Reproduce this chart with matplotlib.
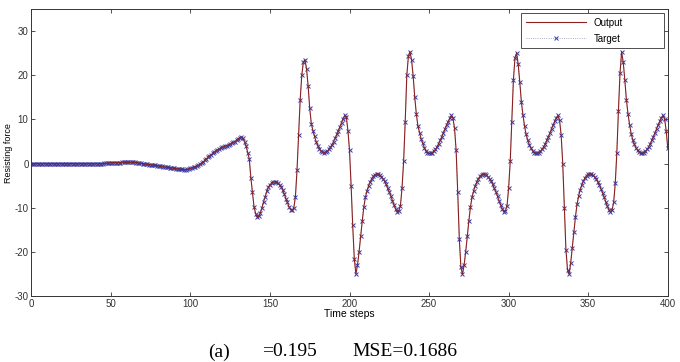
import numpy as np
import matplotlib
matplotlib.use('Agg')
import matplotlib.pyplot as plt

# time steps 0..400 (one per step)
steps = np.arange(0, 401)

flat_part = [0.0] * 46  # t = 0..45
slow_part = [  # t = 46..131
    0.05, 0.1, 0.1, 0.15, 0.2, 0.2, 0.2, 0.25, 0.25, 0.25,
    0.25, 0.3, 0.3, 0.3, 0.3, 0.3, 0.3, 0.3, 0.3, 0.3,
    0.25, 0.2, 0.1, 0.05, 0.0, -0.05, -0.1, -0.15, -0.2, -0.25,
    -0.3, -0.35, -0.4, -0.45, -0.5, -0.55, -0.6, -0.7, -0.75, -0.8,
    -0.85, -0.9, -0.95, -1.0, -1.1, -1.15, -1.2, -1.25, -1.3, -1.3,
    -1.35, -1.35, -1.3, -1.2, -1.1, -0.95, -0.8, -0.7, -0.55, -0.4,
    -0.15, 0.1, 0.4, 0.75, 1.1, 1.4, 1.7, 2.0, 2.3, 2.6,
    2.85, 3.1, 3.3, 3.5, 3.7, 3.85, 4.0, 4.1, 4.25, 4.4,
    4.6, 4.8, 5.0, 5.3, 5.6, 5.9,
]
transient = [  # t = 132..171
    6.0, 5.7, 5.0, 4.0, 2.5, 1.1, -3.2, -6.5, -9.8, -11.3,
    -12.1, -11.9, -11.1, -10.0, -8.6, -7.5, -6.3, -5.3, -4.8, -4.4,
    -4.2, -4.1, -4.1, -4.4, -4.8, -5.2, -6.0, -6.9, -7.9, -8.8,
    -9.8, -10.4, -10.6, -10.0, -7.5, -1.5, 6.5, 14.5, 20.0, 23.0,
]
cycle1 = [  # t = 172..237
    23.5, 21.5, 17.5, 12.5, 9.0, 7.5, 6.2, 5.0, 4.1, 3.4,
    2.9, 2.6, 2.5, 2.6, 2.8, 3.2, 3.7, 4.3, 5.0, 5.8,
    6.6, 7.5, 8.4, 9.3, 10.2, 10.9, 10.5, 7.5, 3.0, -5.0,
    -14.0, -21.5, -25.0, -23.0, -20.0, -16.5, -13.0, -9.8, -7.6, -6.2,
    -5.0, -4.1, -3.4, -2.9, -2.5, -2.3, -2.4, -2.6, -3.0, -3.4,
    -4.0, -4.7, -5.6, -6.4, -7.4, -8.4, -9.4, -10.3, -10.9, -10.7,
    -9.5, -5.5, 0.5, 9.5, 20.0, 24.3,
]
cycle2 = [  # t = 238..304
    25.3, 23.5, 19.8, 15.0, 11.2, 8.5, 7.0, 5.6, 4.6, 3.6,
    2.9, 2.5, 2.3, 2.3, 2.5, 2.8, 3.2, 3.8, 4.5, 5.3,
    6.1, 7.0, 7.9, 8.8, 9.5, 10.3, 10.9, 10.3, 8.0, 3.0,
    -6.5, -17.0, -23.5, -25.0, -23.0, -20.0, -16.5, -13.0, -9.8, -7.6,
    -6.2, -5.0, -4.1, -3.4, -2.9, -2.5, -2.3, -2.4, -2.6, -3.0,
    -3.4, -4.0, -4.7, -5.6, -6.4, -7.4, -8.4, -9.4, -10.3, -10.9,
    -10.7, -9.5, -5.5, 0.5, 9.5, 19.0, 24.0,
]
cycle3 = [  # t = 305..370
    25.0, 22.5, 18.5, 14.0, 11.0, 8.5, 6.6, 5.3, 4.3, 3.5,
    2.9, 2.5, 2.3, 2.3, 2.5, 2.8, 3.2, 3.8, 4.5, 5.3,
    6.1, 7.0, 7.9, 8.8, 9.6, 10.4, 10.9, 9.8, 6.5, 0.0,
    -10.0, -19.5, -24.0, -25.0, -22.5, -19.0, -15.5, -12.0, -9.2, -7.3,
    -5.9, -4.8, -3.9, -3.2, -2.7, -2.4, -2.3, -2.4, -2.6, -3.0,
    -3.5, -4.1, -4.8, -5.7, -6.6, -7.6, -8.6, -9.6, -10.4, -10.9,
    -10.5, -8.8, -4.5, 2.5, 12.0, 20.5,
]
cycle4 = [  # t = 371..400
    25.3, 23.0, 19.0, 14.5, 11.3, 8.8, 6.8, 5.4, 4.4, 3.6,
    3.0, 2.6, 2.3, 2.3, 2.5, 2.8, 3.2, 3.8, 4.5, 5.3,
    6.1, 7.0, 7.9, 8.8, 9.6, 10.4, 10.9, 10.2, 7.5, 3.5,
]

target = np.array(flat_part + slow_part + transient + cycle1 + cycle2 + cycle3 + cycle4)
output = target.copy()

x_ticks = [0, 50, 100, 150, 200, 250, 300, 350, 400]
y_ticks = [-30, -20, -10, 0, 10, 20, 30]

plt.rcParams['font.family'] = ['Liberation Sans', 'DejaVu Sans']
plt.rcParams['axes.unicode_minus'] = False

fig = plt.figure(figsize=(6.8, 3.62), dpi=100)
ax = fig.add_axes([0.046, 0.182, 0.936, 0.793])

ax.plot(steps, target, linestyle=':', color='#9090b0', linewidth=0.6,
        marker='x', markersize=3, markeredgewidth=0.7, markeredgecolor='#3d3da5',
        label='Target', zorder=2)
ax.plot(steps, output, color='#8b2020', linewidth=0.8, label='Output', zorder=3)

ax.set_xlim(0, 400)
ax.set_ylim(-30, 35)
ax.set_xticks(x_ticks)
ax.set_yticks(y_ticks)
ax.tick_params(direction='in', top=True, right=True, labelsize=7, length=3,
               width=0.6, colors='#333333', pad=2)
for s in ax.spines.values():
    s.set_linewidth(0.7)
    s.set_color('#333333')

ax.set_xlabel('Time steps', fontsize=7.5, labelpad=0)
ax.set_ylabel('Resisting force', fontsize=6.5, labelpad=1)

h, l = ax.get_legend_handles_labels()
leg = ax.legend(h[::-1], l[::-1], loc='upper left', bbox_to_anchor=(0.770, 0.863, 0.224, 0.122),
                mode='expand', borderaxespad=0, fontsize=7, frameon=True, numpoints=1,
                fancybox=False, edgecolor='#222222', handlelength=6.2,
                labelspacing=0.6, borderpad=0.45)
leg.get_frame().set_linewidth(0.7)

fig.text(208 / 680, 1 - 352 / 362, '(a)', family='Liberation Serif', fontsize=14, va='center')
fig.text(262 / 680, 1 - 352 / 362, '=0.195', family='Liberation Serif', fontsize=14, va='center')
fig.text(352 / 680, 1 - 352 / 362, 'MSE=0.1686', family='Liberation Serif', fontsize=14, va='center')

fig.savefig('out.png', dpi=100)
